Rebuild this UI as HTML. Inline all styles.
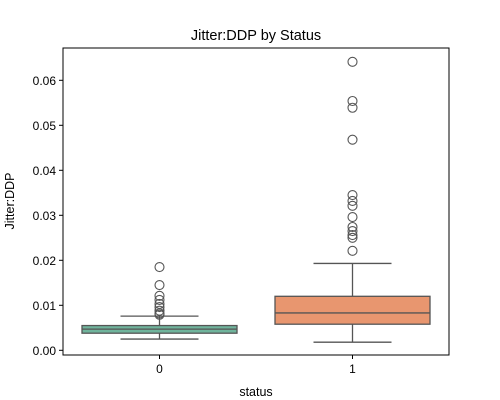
<!DOCTYPE html>
<html><head><meta charset="utf-8"><style>body{margin:0;background:#fff}svg{display:block;font-family:"Liberation Sans","DejaVu Sans",sans-serif}</style></head>
<body>
<svg id="c" width="500" height="400"></svg>
<script>
const categories=["0","1"];
const q1s=[0.0038,0.0058];
const medians=[0.0047,0.0083];
const q3s=[0.0055,0.0120];
const whiskLo=[0.0025,0.0018];
const whiskHi=[0.0076,0.0193];
const outliers0=[0.0185,0.0145,0.0121,0.0112,0.0103,0.0096,0.0088,0.0082,0.0079];
const outliers1=[0.0641,0.0554,0.0539,0.0468,0.0345,0.0332,0.0321,0.0296,0.0274,0.0265,0.0256,0.0250,0.0221];
const yTicks=[0,0.01,0.02,0.03,0.04,0.05,0.06];
const yTickLabels=["0.00","0.01","0.02","0.03","0.04","0.05","0.06"];
const fills=["#70b49c","#e8966f"];
const L=63,R=449,T=48,B=355;
const y=v=>350.3-v*4500;
const x=i=>L+(R-L)*(i+0.5)/categories.length;
const svg=document.getElementById('c');const NS="http://www.w3.org/2000/svg";
function mk(t,a,p){const e=document.createElementNS(NS,t);for(const k in a)e.setAttribute(k,a[k]);(p||svg).appendChild(e);return e;}
const outs=[outliers0,outliers1];
categories.forEach((c,i)=>{
 const g=mk('g',{});
 
 
 const cx=x(i),hw=77.5;
 mk('line',{x1:cx,x2:cx,y1:y(q3s[i]),y2:y(whiskHi[i]),stroke:'#555','stroke-width':1.3},g);
 mk('line',{x1:cx,x2:cx,y1:y(q1s[i]),y2:y(whiskLo[i]),stroke:'#555','stroke-width':1.3},g);
 mk('line',{x1:cx-39,x2:cx+39,y1:y(whiskHi[i]),y2:y(whiskHi[i]),stroke:'#555','stroke-width':1.3},g);
 mk('line',{x1:cx-39,x2:cx+39,y1:y(whiskLo[i]),y2:y(whiskLo[i]),stroke:'#555','stroke-width':1.3},g);
 mk('rect',{x:cx-hw,y:y(q3s[i]),width:2*hw,height:y(q1s[i])-y(q3s[i]),fill:fills[i],stroke:'#555','stroke-width':1.3},g);
 mk('line',{x1:cx-hw,x2:cx+hw,y1:y(medians[i]),y2:y(medians[i]),stroke:'#555','stroke-width':1.3},g);
 outs[i].forEach(v=>{const o=mk('circle',{cx:cx,cy:y(v),r:4.5,fill:'none',stroke:'#555','stroke-width':1.1},g);
  
  });
 const t=mk('line',{x1:cx,x2:cx,y1:B,y2:B+4,stroke:'#000'});
 const tl=mk('text',{x:cx,y:B+18,'text-anchor':'middle','font-size':12});tl.textContent=c;
 
 
});
yTicks.forEach((v,i)=>{
 mk('line',{x1:L-4,x2:L,y1:y(v),y2:y(v),stroke:'#000'});
 const t=mk('text',{x:L-7,y:y(v)+4.5,'text-anchor':'end','font-size':12});t.textContent=yTickLabels[i];
 
 
});
const fr=mk('rect',{x:L,y:T,width:R-L,height:B-T,fill:'none',stroke:'#000','stroke-width':1});


let t=mk('text',{x:(L+R)/2,y:40,'text-anchor':'middle','font-size':14.5});t.textContent='Jitter:DDP by Status';


t=mk('text',{x:(L+R)/2,y:396,'text-anchor':'middle','font-size':12.5});t.textContent='status';


t=mk('text',{x:0,y:0,'text-anchor':'middle','font-size':12.5,transform:'translate(14,201) rotate(-90)'});t.textContent='Jitter:DDP';


</script>
</body></html>
